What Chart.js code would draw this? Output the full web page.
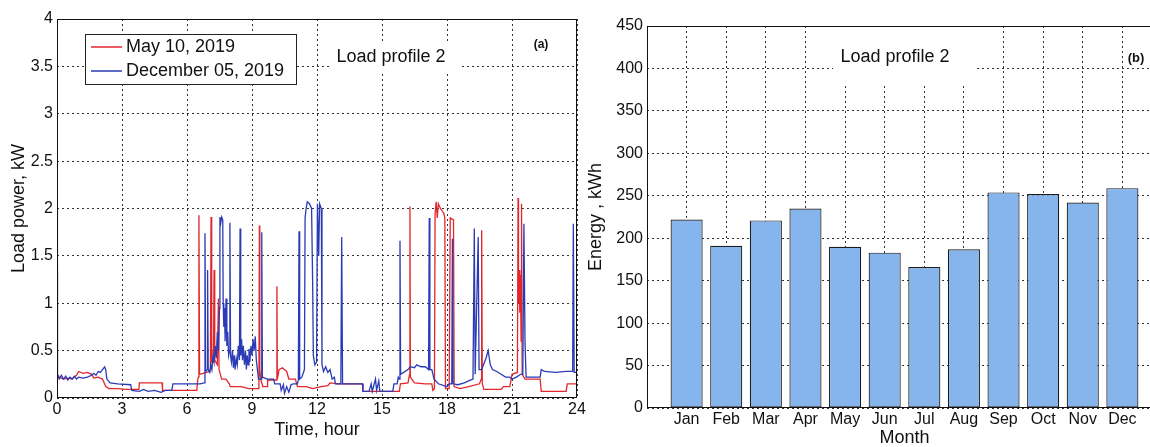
<!DOCTYPE html>
<html>
<head>
<meta charset="utf-8">
<script src="https://cdn.jsdelivr.net/npm/chart.js@4.4.1/dist/chart.umd.min.js"></script>
<style>
  html, body { margin: 0; padding: 0; background: #fff; overflow: hidden; }
  body { width: 1150px; height: 447px; position: relative; }
  #profileChart { position: absolute; left: 0; top: 0; }
  #energyChart { position: absolute; left: 580px; top: 0; }
</style>
</head>
<body>
<canvas id="profileChart" width="600" height="447"></canvas>
<canvas id="energyChart" width="600" height="447"></canvas>
<script>
// ---- data ----
const mayLabel = 'May 10, 2019';
const decLabel = 'December 05, 2019';

const mayHour = [0.00, 0.02, 0.10, 0.30, 0.50, 0.70, 0.90, 1.00, 1.20, 1.40, 1.60, 1.70, 1.90, 2.10, 2.25, 2.40, 2.80, 3.20, 3.78, 3.80, 4.20, 4.60, 4.85, 4.87, 5.50, 6.00, 6.45,
  6.50, 6.53, 6.55, 6.58, 6.90, 7.05, 7.08, 7.11, 7.14, 7.22, 7.25, 7.28, 7.40, 7.43, 7.45, 7.48, 7.60, 7.80, 7.95, 8.00, 8.50, 8.85, 9.30,
  9.32, 9.34, 9.36, 9.40, 9.50, 9.70, 9.72, 10.10, 10.13, 10.15, 10.17, 10.25, 10.40, 10.60, 10.70, 11.00, 11.10, 11.50, 11.80, 12.20,
  12.50, 12.60, 13.00, 14.10, 14.12, 15.80, 15.85, 16.20, 16.27, 16.29, 16.31, 16.50, 17.00, 17.30, 17.35, 17.42, 17.45, 17.50, 17.55, 17.60, 17.70, 17.85, 17.90, 17.93,
  18.10, 18.15, 18.30, 18.33, 18.60, 19.00, 19.50, 19.58, 19.60, 19.63, 19.70, 20.00, 20.50, 20.60, 20.90, 21.00, 21.25, 21.28, 21.30, 21.33, 21.36, 21.39, 21.42, 21.44, 21.47,
  21.60, 22.00, 22.30, 22.35, 23.50, 23.55, 24.00];
const mayKw = [1.35, 0.25, 0.22, 0.20, 0.21, 0.20, 0.24, 0.28, 0.26, 0.27, 0.25, 0.21, 0.22, 0.20, 0.12, 0.10, 0.10, 0.09, 0.09, 0.16, 0.16, 0.16, 0.16, 0.08, 0.08, 0.08, 0.08,
  0.20, 0.22, 1.93, 0.25, 0.27, 0.28, 0.30, 1.91, 0.38, 0.38, 1.35, 0.40, 0.35, 0.35, 1.05, 0.30, 0.20, 0.20, 0.15, 0.12, 0.12, 0.10, 0.10,
  0.15, 1.82, 0.30, 0.20, 0.12, 0.12, 0.19, 0.19, 0.19, 1.18, 0.20, 0.30, 0.32, 0.28, 0.20, 0.20, 0.12, 0.12, 0.10, 0.12,
  0.13, 0.16, 0.15, 0.15, 0.07, 0.07, 0.15, 0.16, 0.25, 2.02, 0.22, 0.16, 0.15, 0.15, 0.08, 0.10, 1.95, 2.07, 1.90, 2.05, 2.00, 1.95, 1.90, 0.10,
  0.10, 1.90, 1.88, 0.12, 0.10, 0.12, 0.15, 0.20, 1.77, 0.15, 0.09, 0.09, 0.09, 0.12, 0.12, 0.25, 0.27, 2.11, 1.00, 1.35, 0.90, 1.30, 0.60, 2.05, 0.25,
  0.20, 0.20, 0.20, 0.07, 0.07, 0.15, 0.15];

const decHour = [0.00, 0.02, 0.10, 0.20, 0.30, 0.40, 0.50, 0.60, 0.70, 0.80, 0.90, 1.00, 1.20, 1.40, 1.60, 1.70, 1.80, 1.90, 2.00, 2.10, 2.20, 2.25, 2.30, 2.45, 2.80, 3.40, 3.45,
  3.80, 4.00, 4.20, 4.50, 4.80, 5.00, 5.30, 5.35, 6.00, 6.60, 6.80, 6.83, 6.86, 6.93, 6.95, 6.98, 7.05, 7.10, 7.15, 7.20, 7.25, 7.30, 7.35, 7.40, 7.45,
  7.50, 7.52, 7.56, 7.60, 7.65, 7.67, 7.70, 7.73, 7.76, 7.80, 7.84, 7.88, 7.92, 7.96, 7.98, 8.01, 8.05, 8.10, 8.14, 8.18, 8.22, 8.27, 8.32, 8.37, 8.42,
  8.45, 8.48, 8.52, 8.56, 8.60, 8.65, 8.70, 8.74, 8.78, 8.82, 8.86, 8.90, 8.95, 9.00, 9.05, 9.10, 9.15, 9.20, 9.25, 9.30, 9.42, 9.45, 9.48, 9.70,
  10.00, 10.05, 10.30, 10.35, 10.45, 10.50, 10.60, 10.70, 10.80, 10.90, 11.10, 11.14, 11.17, 11.20, 11.30, 11.42, 11.45, 11.50, 11.55, 11.65, 11.75,
  11.80, 11.83, 11.90, 11.98, 12.02, 12.08, 12.12, 12.20, 12.23, 12.30, 12.40, 12.50, 12.60, 12.70, 12.80, 12.85, 13.10, 13.14, 13.18, 13.50, 14.10,
  14.12, 14.40, 14.50, 14.55, 14.70, 14.75, 14.85, 14.90, 15.50, 15.55, 15.70, 15.75, 15.80, 15.83, 15.86, 16.00, 16.20, 16.30, 16.50, 16.60, 16.80,
  17.00, 17.15, 17.18, 17.21, 17.30, 17.40, 17.60, 18.00, 18.10, 18.22, 18.25, 18.28, 18.50, 18.80, 19.00, 19.20, 19.26, 19.30, 19.44, 19.48, 19.60,
  19.80, 19.90, 20.00, 20.10, 20.30, 20.50, 20.70, 20.90, 21.00, 21.20, 21.40, 21.50, 21.55, 21.60, 21.65, 22.00, 22.30, 22.35, 22.50, 23.00, 23.50,
  23.80, 23.83, 23.87, 24.00];
const decKw = [2.00, 0.25, 0.20, 0.24, 0.20, 0.23, 0.19, 0.22, 0.20, 0.23, 0.20, 0.22, 0.21, 0.22, 0.24, 0.26, 0.24, 0.28, 0.27, 0.30, 0.33, 0.30, 0.20, 0.16, 0.15, 0.14, 0.08,
  0.07, 0.09, 0.07, 0.08, 0.06, 0.08, 0.08, 0.15, 0.15, 0.15, 0.16, 1.74, 0.28, 0.30, 1.35, 0.30, 0.27, 0.35, 0.30, 0.45, 0.38, 0.55, 0.42, 0.70, 0.50,
  0.95, 1.91, 1.85, 1.91, 1.88, 1.00, 0.75, 0.95, 0.60, 1.05, 0.55, 0.70, 0.45, 0.50, 1.85, 0.45, 0.38, 0.50, 0.32, 0.45, 0.30, 0.42, 0.35, 0.55, 0.40,
  1.79, 0.45, 0.62, 0.40, 0.55, 0.35, 0.50, 0.30, 0.45, 0.35, 0.52, 0.38, 0.55, 0.45, 0.62, 0.50, 0.65, 0.40, 0.30, 0.20, 0.20, 1.75, 0.22, 0.20,
  0.20, 0.15, 0.15, 0.08, 0.14, 0.05, 0.12, 0.06, 0.14, 0.15, 0.15, 0.20, 1.76, 0.20, 0.22, 0.30, 1.90, 2.00, 2.07, 2.05, 2.00,
  1.20, 0.45, 0.35, 0.38, 2.05, 1.50, 2.05, 2.00, 0.35, 0.28, 0.33, 0.27, 0.30, 0.20, 0.22, 0.15, 0.15, 1.70, 0.15, 0.15, 0.15,
  0.07, 0.07, 0.15, 0.07, 0.20, 0.08, 0.18, 0.07, 0.07, 0.15, 0.15, 0.22, 0.20, 1.66, 0.25, 0.27, 0.30, 0.33, 0.32, 0.35, 0.33,
  0.33, 0.30, 1.90, 0.30, 0.30, 0.20, 0.15, 0.12, 0.15, 0.15, 1.68, 0.15, 0.14, 0.16, 0.18, 0.20, 1.79, 0.25, 1.70, 0.30, 0.30,
  0.42, 0.50, 0.35, 0.30, 0.28, 0.25, 0.22, 0.22, 0.20, 0.22, 0.25, 0.25, 1.84, 0.60, 0.22, 0.22, 0.22, 0.30, 0.28, 0.27, 0.28,
  0.28, 1.84, 0.27, 0.27];

const hourTicks = [0, 3, 6, 9, 12, 15, 18, 21, 24];
const loadTicks = [0, 0.5, 1, 1.5, 2, 2.5, 3, 3.5, 4];

const months = ['Jan', 'Feb', 'Mar', 'Apr', 'May', 'Jun', 'Jul', 'Aug', 'Sep', 'Oct', 'Nov', 'Dec'];
const energyKwh = [222, 191, 221, 235, 190, 183, 166, 187, 254, 252, 242, 259];
const energyTicks = [0, 50, 100, 150, 200, 250, 300, 350, 400, 450];

// ---- shared look ----
const FONT = '"Liberation Sans", Arial, sans-serif';
const RED = '#e3262b';
const BLUE = '#2b3bb5';
Chart.defaults.font.family = FONT;
Chart.defaults.color = '#111';

const gridStyle = { color: '#333', lineWidth: 1, drawTicks: false };
const dotted = { display: false, dash: [2, 3] };

function setTicks(list) {
    return scale => { scale.ticks = list.map(v => ({ value: v })); };
}

// white patch + text label inside plot (like the matlab text box)
function drawLabel(ctx, text, cx, cy, patch) {
    ctx.save();
    ctx.fillStyle = '#fff';
    ctx.fillRect(patch[0], patch[1], patch[2], patch[3]);
    ctx.fillStyle = '#111';
    ctx.font = '18px ' + FONT;
    ctx.textAlign = 'center';
    ctx.textBaseline = 'middle';
    ctx.fillText(text, cx, cy);
    ctx.restore();
}

function drawBox(chart) {
    const { ctx, chartArea: a } = chart;
    ctx.save();
    ctx.strokeStyle = '#111';
    ctx.lineWidth = 1;
    ctx.strokeRect(Math.round(a.left) + 0.5, Math.round(a.top) + 0.5,
        Math.round(a.right - a.left) - 1, Math.round(a.bottom - a.top) - 1);
    ctx.restore();
}

const profileDecor = {
    id: 'profileDecor',
    afterDraw(chart) {
        const ctx = chart.ctx;
        drawLabel(ctx, 'Load profile 2', 391, 57, [329, 44, 133, 28]);

        // legend box
        ctx.save();
        ctx.fillStyle = '#fff';
        ctx.fillRect(85, 34, 211, 50);
        ctx.strokeStyle = '#222';
        ctx.lineWidth = 1;
        ctx.strokeRect(85.5, 34.5, 211, 50);
        const entries = [[mayLabel, RED, 47], [decLabel, BLUE, 71]];
        ctx.font = '18px ' + FONT;
        ctx.textBaseline = 'middle';
        entries.forEach(([name, color, y]) => {
            ctx.strokeStyle = color;
            ctx.lineWidth = 1.5;
            ctx.beginPath();
            ctx.moveTo(91, y);
            ctx.lineTo(122, y);
            ctx.stroke();
            ctx.fillStyle = '#111';
            ctx.fillText(name, 126, y);
        });

        ctx.font = 'bold 12px ' + FONT;
        ctx.textAlign = 'center';
        ctx.fillText('(a)', 541, 45);
        ctx.restore();
        drawBox(chart);
    }
};

const energyDecor = {
    id: 'energyDecor',
    afterDraw(chart) {
        const ctx = chart.ctx;
        drawLabel(ctx, 'Load profile 2', 315, 57, [253, 27, 142, 56]);
        ctx.save();
        ctx.fillStyle = '#111';
        ctx.font = 'bold 13px ' + FONT;
        ctx.textAlign = 'center';
        ctx.textBaseline = 'middle';
        ctx.fillText('(b)', 556, 58);
        ctx.restore();
        drawBox(chart);
    }
};

// ---- (a) daily load profile ----
new Chart(document.getElementById('profileChart'), {
    type: 'line',
    data: {
        datasets: [
            {
                label: decLabel,
                data: decHour.map((h, i) => ({ x: h, y: decKw[i] })),
                borderColor: BLUE,
                borderWidth: 1.3,
                pointRadius: 0,
                tension: 0
            },
            {
                label: mayLabel,
                data: mayHour.map((h, i) => ({ x: h, y: mayKw[i] })),
                borderColor: RED,
                borderWidth: 1.3,
                pointRadius: 0,
                tension: 0
            }
        ]
    },
    options: {
        responsive: false,
        animation: false,
        devicePixelRatio: 1,
        layout: { padding: { top: 19, right: 23, left: 0, bottom: 0 } },
        plugins: { legend: { display: false }, tooltip: { enabled: false } },
        scales: {
            x: {
                type: 'linear', min: 0, max: 24,
                afterBuildTicks: setTicks(hourTicks),
                afterFit: s => { s.height = 49; },
                grid: gridStyle,
                border: dotted,
                ticks: { padding: 2, font: { size: 16 }, color: '#111', maxRotation: 0, autoSkip: false, callback: v => String(v) },
                title: { display: true, text: 'Time, hour', font: { size: 18 }, color: '#111', padding: { top: 0, bottom: 6 } }
            },
            y: {
                type: 'linear', min: 0, max: 4,
                afterBuildTicks: setTicks(loadTicks),
                afterFit: s => { s.width = 57; },
                grid: gridStyle,
                border: dotted,
                ticks: { padding: 4, font: { size: 16 }, color: '#111', autoSkip: false, callback: v => String(v) },
                title: { display: true, text: 'Load power, kW', font: { size: 18 }, color: '#111', padding: { top: 8, bottom: 0 } }
            }
        }
    },
    plugins: [profileDecor]
});

// ---- (b) monthly energy ----
new Chart(document.getElementById('energyChart'), {
    type: 'bar',
    data: {
        datasets: [{
            label: 'Energy',
            data: energyKwh.map((v, i) => ({ x: i + 1, y: v })),
            backgroundColor: '#86b4ec',
            borderColor: '#1c1c1c',
            borderWidth: 1.2,
            borderSkipped: false,
            categoryPercentage: 1,
            barPercentage: 0.81
        }]
    },
    options: {
        responsive: false,
        animation: false,
        devicePixelRatio: 1,
        layout: { padding: { top: 26, right: 18, left: 0, bottom: 0 } },
        plugins: { legend: { display: false }, tooltip: { enabled: false } },
        scales: {
            x: {
                type: 'linear', min: 0, max: 13, offset: false,
                afterBuildTicks: setTicks(months.map((m, i) => i + 1)),
                afterFit: s => { s.height = 39; },
                grid: Object.assign({ offset: false }, gridStyle),
                border: dotted,
                ticks: { padding: 2, font: { size: 16 }, color: '#111', maxRotation: 0, autoSkip: false, callback: v => months[v - 1] },
                title: { display: true, text: 'Month', font: { size: 18, lineHeight: 1 }, color: '#111', padding: { top: 0, bottom: 0 } }
            },
            y: {
                type: 'linear', min: 0, max: 450,
                afterBuildTicks: setTicks(energyTicks),
                afterFit: s => { s.width = 67; },
                grid: gridStyle,
                border: dotted,
                ticks: { padding: 4, font: { size: 16 }, color: '#111', autoSkip: false },
                title: { display: true, text: 'Energy , kWh', font: { size: 18 }, color: '#111', padding: { top: 5, bottom: 0 } }
            }
        }
    },
    plugins: [energyDecor]
});
</script>
</body>
</html>
